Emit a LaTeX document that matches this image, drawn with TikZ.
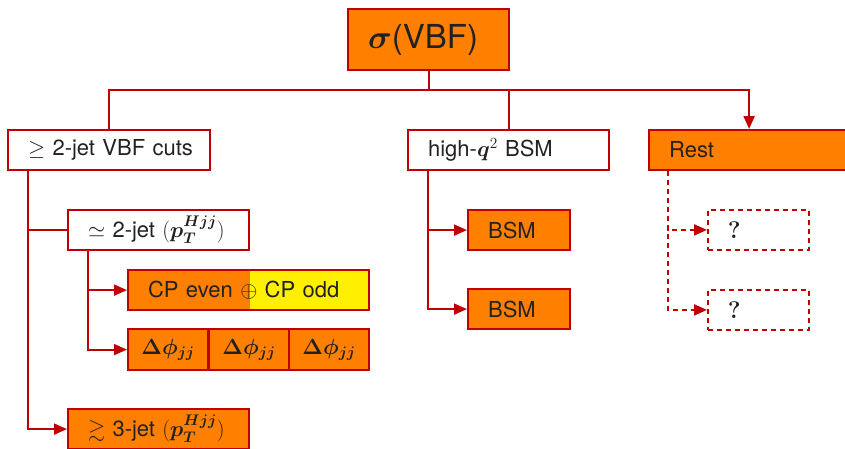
\RequirePackage{fix-cm}
\documentclass[tikz,border=0pt]{standalone}
\usepackage{amsmath,amssymb,bm}
\usepackage[no-math]{fontspec}
\setmainfont{TeX Gyre Heros}
\newfontfamily\qfont{Latin Modern Roman}
\usetikzlibrary{arrows.meta,positioning}
\definecolor{boxred}{HTML}{C00000}
\definecolor{boxorange}{HTML}{FF8000}
\definecolor{boxyellow}{HTML}{FFF000}
\definecolor{txt}{HTML}{222222}
\tikzset{
  basebox/.style={draw=boxred, line width=2.2pt, anchor=north west, inner xsep=0pt, inner ysep=0pt,
    align=left, text=txt, font=\fontsize{22}{26}\selectfont, minimum height=40pt,
    execute at begin node=\hspace*{20pt}},
  whitebox/.style={basebox, fill=white},
  orangebox/.style={basebox, fill=boxorange},
  dashbox/.style={basebox, fill=white, dash pattern=on 5pt off 4pt, line width=1.8pt},
  cellbox/.style={draw=boxred, line width=2.2pt, anchor=north west, inner sep=0pt, fill=boxorange,
    text=txt, font=\fontsize{22}{26}\selectfont, minimum height=41pt, minimum width=80pt, align=center},
  conn/.style={draw=boxred, line width=1.8pt},
  arr/.style={conn, -{Triangle[length=13pt,width=11pt]}},
  dasharr/.style={arr, dash pattern=on 5pt off 4pt},
}
\begin{document}
\begin{tikzpicture}[x=1pt,y=-1pt]
\useasboundingbox (0,0) rectangle (845,448);
\clip (0,0) rectangle (845,448);
% nodes
\node[orangebox, minimum height=61pt, text width=161pt, font=\fontsize{33}{38}\selectfont] (sig) at (347,8) {$\bm{\sigma}$(VBF)};
\node[whitebox, text width=202pt] (vbf) at (7,129) {$\geq$ 2-jet VBF cuts};
\node[whitebox, text width=201pt] (highq) at (407,129) {high-$\bm{q}^2$ BSM};
\node[orangebox, text width=200pt] (rest) at (648,129) {Rest};
\node[whitebox, text width=181pt] (two) at (67,209) {$\simeq$ 2-jet $(\boldsymbol{p_T^{Hjj}})$};
\node[orangebox, text width=241pt,
  path picture={\fill[boxyellow] ([xshift=122pt]path picture bounding box.north west) rectangle (path picture bounding box.south east);}]
  (cp) at (127,269) {CP even $\oplus$ CP odd};
\node[cellbox] (d1) at (127,328) {$\bm{\Delta\phi_{jj}}$};
\node[cellbox] (d2) at (208,328) {$\bm{\Delta\phi_{jj}}$};
\node[cellbox] (d3) at (288,328) {$\bm{\Delta\phi_{jj}}$};
\node[orangebox, text width=181pt] (three) at (67,408) {$\gtrsim$ 3-jet $(\boldsymbol{p_T^{Hjj}})$};
\node[orangebox, text width=102pt] (bsm1) at (467,209) {BSM};
\node[orangebox, text width=102pt] (bsm2) at (467,288) {BSM};
\node[dashbox, text width=101pt] (q1) at (707,209) {{\qfont\bfseries\fontsize{24}{28}\selectfont ?}};
\node[dashbox, text width=101pt] (q2) at (707,289) {{\qfont\bfseries\fontsize{24}{28}\selectfont ?}};
% connectors
\draw[conn] (sig.south) -- ++(0,19) coordinate (jn);
\draw[conn] (vbf.north) |- (jn) -| (highq.north);
\draw[arr] (jn) -| (rest.north);
\coordinate (vl) at ([xshift=21pt]vbf.south west);
\draw[conn] (vl) |- (two.west);
\draw[arr] (vl) |- (three.west);
\coordinate (tl) at ([xshift=21pt]two.south west);
\draw[arr] (tl) |- (cp.west);
\draw[arr] (tl) |- (d1.west);
\coordinate (hl) at ([xshift=21pt]highq.south west);
\draw[arr] (hl) |- (bsm1.west);
\draw[arr] (hl) |- (bsm2.west);
\coordinate (rl) at ([xshift=20pt]rest.south west);
\draw[dasharr] (rl) |- (q1.west);
\draw[dasharr] (rl) |- (q2.west);
\end{tikzpicture}
\end{document}
